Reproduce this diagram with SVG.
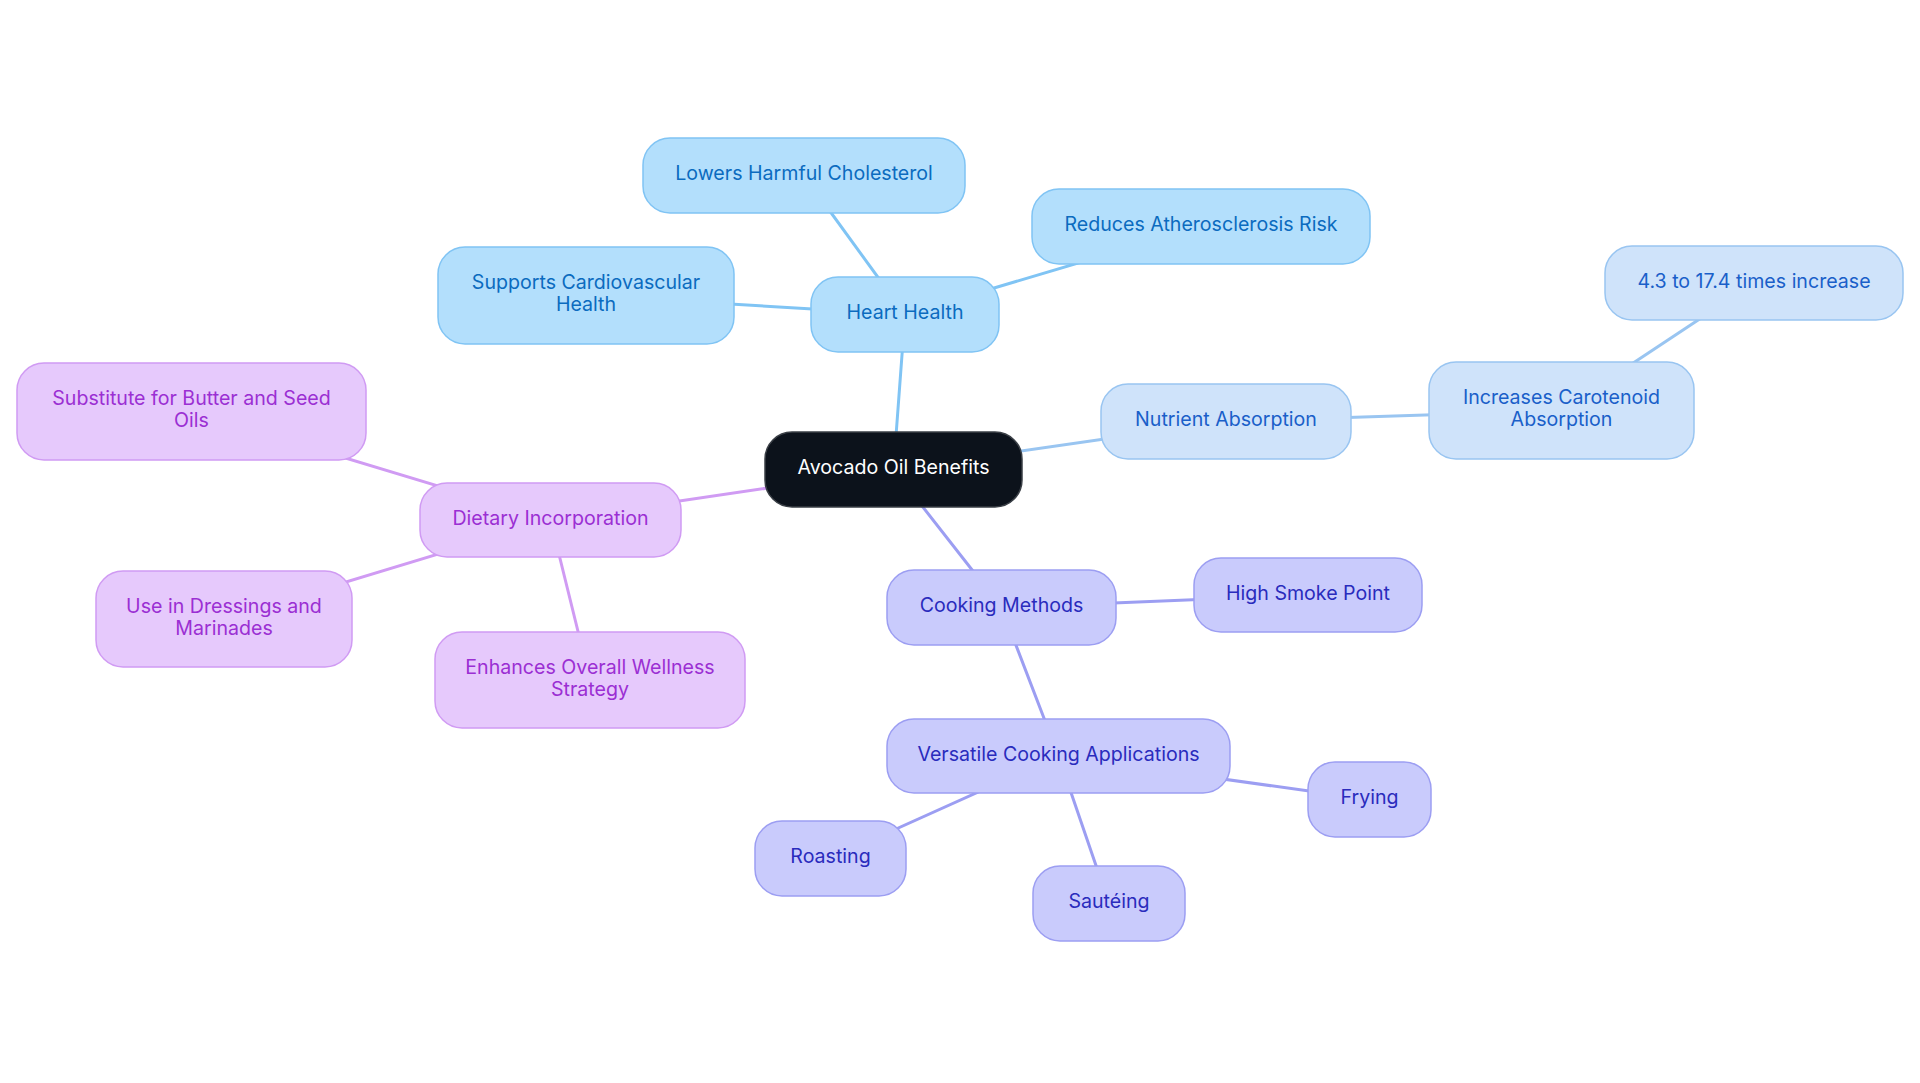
<svg xmlns="http://www.w3.org/2000/svg" width="1920" height="1083" viewBox="0 0 1920 1083">
<style>
text{font-family:Inter,"Noto Sans","Liberation Sans",sans-serif;font-size:19.6px;text-anchor:middle}
.e{fill:none;stroke-width:3;stroke-linecap:round}
.e0{stroke:#80c4f4}.e1{stroke:#99c5f1}.e2{stroke:#9c9ef2}.e3{stroke:#d09bf3}
.n rect{stroke-width:1.5}
.s0 rect{fill:#b3dffc;stroke:#80c4f4}.s0 text{fill:#0b6bbf}
.s1 rect{fill:#cfe3fa;stroke:#99c5f1}.s1 text{fill:#1a5fc9}
.s2 rect{fill:#c9cbfc;stroke:#9c9ef2}.s2 text{fill:#2a2bbd}
.s3 rect{fill:#e6c9fc;stroke:#d09bf3}.s3 text{fill:#9b2fd3}
.root rect{fill:#0c121b;stroke:#3a3f46}.root text{fill:#ffffff}
</style>
<rect width="1920" height="1083" fill="#ffffff"/>
<g id="connectors">
<line class="e e0" x1="893.5" y1="469.5" x2="905" y2="314.5"/>
<line class="e e0" x1="905" y1="314.5" x2="804" y2="175.5"/>
<line class="e e0" x1="905" y1="314.5" x2="586" y2="295.5"/>
<line class="e e0" x1="905" y1="314.5" x2="1201" y2="226.5"/>
<line class="e e1" x1="893.5" y1="469.5" x2="1226" y2="421.5"/>
<line class="e e1" x1="1226" y1="421.5" x2="1561.5" y2="410.5"/>
<line class="e e1" x1="1561.5" y1="410.5" x2="1754" y2="283"/>
<line class="e e2" x1="893.5" y1="469.5" x2="1001.5" y2="607.5"/>
<line class="e e2" x1="1001.5" y1="607.5" x2="1308" y2="595"/>
<line class="e e2" x1="1001.5" y1="607.5" x2="1058.5" y2="756"/>
<line class="e e2" x1="1058.5" y1="756" x2="1369.5" y2="799.5"/>
<line class="e e2" x1="1058.5" y1="756" x2="1109" y2="903.5"/>
<line class="e e2" x1="1058.5" y1="756" x2="830.5" y2="858.5"/>
<line class="e e3" x1="893.5" y1="469.5" x2="550.5" y2="520"/>
<line class="e e3" x1="550.5" y1="520" x2="191.5" y2="411.5"/>
<line class="e e3" x1="550.5" y1="520" x2="224" y2="619"/>
<line class="e e3" x1="550.5" y1="520" x2="590" y2="680"/>
</g>
<g id="root" class="n root"><rect x="765" y="432" width="257" height="75" rx="27"/><text x="893.5" y="474">Avocado Oil Benefits</text></g>
<g id="heart" class="n s0"><rect x="811" y="277" width="188" height="75" rx="27"/><text x="905" y="319">Heart Health</text></g>
<g id="lowers" class="n s0"><rect x="643" y="138" width="322" height="75" rx="27"/><text x="804" y="180">Lowers Harmful Cholesterol</text></g>
<g id="supports" class="n s0"><rect x="438" y="247" width="296" height="97" rx="27"/><text x="586" y="289">Supports Cardiovascular</text><text x="586" y="311">Health</text></g>
<g id="reduces" class="n s0"><rect x="1032" y="189" width="338" height="75" rx="27"/><text x="1201" y="231">Reduces Atherosclerosis Risk</text></g>
<g id="nutrient" class="n s1"><rect x="1101" y="384" width="250" height="75" rx="27"/><text x="1226" y="426">Nutrient Absorption</text></g>
<g id="carotenoid" class="n s1"><rect x="1429" y="362" width="265" height="97" rx="27"/><text x="1561.5" y="404">Increases Carotenoid</text><text x="1561.5" y="426">Absorption</text></g>
<g id="increase" class="n s1"><rect x="1605" y="246" width="298" height="74" rx="27"/><text x="1754" y="287.5">4.3 to 17.4 times increase</text></g>
<g id="cooking" class="n s2"><rect x="887" y="570" width="229" height="75" rx="27"/><text x="1001.5" y="612">Cooking Methods</text></g>
<g id="smoke" class="n s2"><rect x="1194" y="558" width="228" height="74" rx="27"/><text x="1308" y="599.5">High Smoke Point</text></g>
<g id="versatile" class="n s2"><rect x="887" y="719" width="343" height="74" rx="27"/><text x="1058.5" y="760.5">Versatile Cooking Applications</text></g>
<g id="frying" class="n s2"><rect x="1308" y="762" width="123" height="75" rx="27"/><text x="1369.5" y="804">Frying</text></g>
<g id="sauteing" class="n s2"><rect x="1033" y="866" width="152" height="75" rx="27"/><text x="1109" y="908">Sautéing</text></g>
<g id="roasting" class="n s2"><rect x="755" y="821" width="151" height="75" rx="27"/><text x="830.5" y="863">Roasting</text></g>
<g id="dietary" class="n s3"><rect x="420" y="483" width="261" height="74" rx="27"/><text x="550.5" y="524.5">Dietary Incorporation</text></g>
<g id="substitute" class="n s3"><rect x="17" y="363" width="349" height="97" rx="27"/><text x="191.5" y="405">Substitute for Butter and Seed</text><text x="191.5" y="427">Oils</text></g>
<g id="dressings" class="n s3"><rect x="96" y="571" width="256" height="96" rx="27"/><text x="224" y="613">Use in Dressings and</text><text x="224" y="635">Marinades</text></g>
<g id="wellness" class="n s3"><rect x="435" y="632" width="310" height="96" rx="27"/><text x="590" y="674">Enhances Overall Wellness</text><text x="590" y="696">Strategy</text></g>
</svg>
